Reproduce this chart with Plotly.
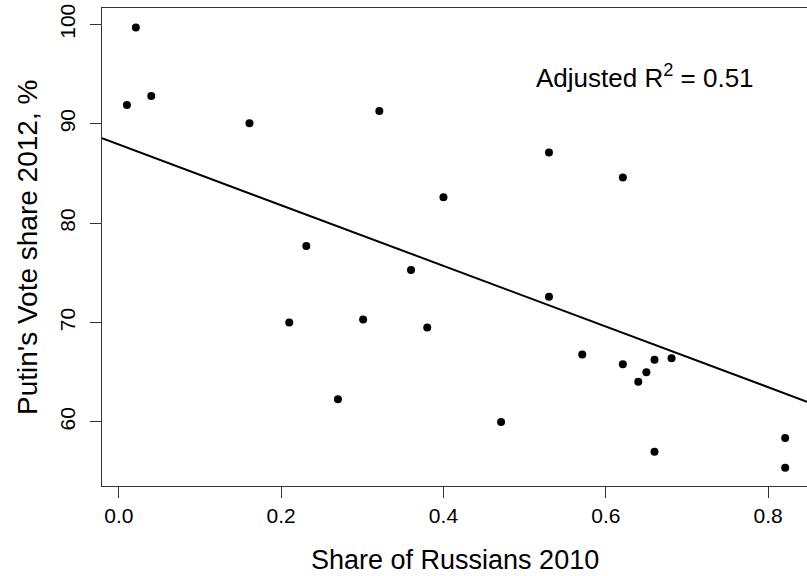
import plotly.graph_objects as go
import numpy as np

# Data
share_russians = [0.010, 0.021, 0.040, 0.161, 0.210, 0.231, 0.270, 0.301, 0.321, 0.360,
                  0.380, 0.400, 0.471, 0.530, 0.530, 0.571, 0.621, 0.621, 0.640, 0.650,
                  0.660, 0.660, 0.681, 0.821, 0.821]
putin_vote = [91.9, 99.7, 92.8, 90.05, 70.0, 77.7, 62.3, 70.3, 91.3, 75.3,
              69.5, 82.6, 60.0, 87.1, 72.6, 66.8, 84.6, 65.8, 64.05, 65.0,
              66.25, 57.0, 66.4, 58.4, 55.4]

# Fitted regression line coefficients
fit_intercept = 87.91
fit_slope = -30.51
adj_r2 = 0.51

x_ticks = [0.0, 0.2, 0.4, 0.6, 0.8]
x_tick_text = ["0.0", "0.2", "0.4", "0.6", "0.8"]
y_ticks = [60, 70, 80, 90, 100]
y_tick_text = ["60", "70", "80", "90", "100"]

x_range = [-0.0207, 0.8479]
y_range = [53.56, 101.65]

FONT = "Liberation Sans, Arial, sans-serif"

fig = go.Figure()

line_x = np.array(x_range)
line_y = fit_intercept + fit_slope * line_x
fig.add_trace(go.Scatter(x=line_x, y=line_y, mode="lines",
                         line=dict(color="black", width=2), hoverinfo="skip",
                         showlegend=False))

fig.add_trace(go.Scatter(x=share_russians, y=putin_vote, mode="markers",
                         marker=dict(color="black", size=8, line=dict(width=0)),
                         showlegend=False))

fig.update_layout(
    width=807, height=576,
    margin=dict(l=102, r=0, t=8, b=90),
    paper_bgcolor="white", plot_bgcolor="white",
    font=dict(family=FONT, color="black", size=21),
    xaxis=dict(range=x_range, tickvals=x_ticks, ticktext=x_tick_text,
               showgrid=False, zeroline=False, showline=True, mirror=True,
               linecolor="#333333", linewidth=1,
               ticks="outside", ticklen=11, tickwidth=1, tickcolor="#333333",
               tickfont=dict(size=21, family=FONT, color="black")),
    yaxis=dict(range=y_range, tickvals=y_ticks, ticktext=y_tick_text,
               showgrid=False, zeroline=False, showline=True, mirror=False,
               linecolor="#333333", linewidth=1,
               ticks="outside", ticklen=11, tickwidth=1, tickcolor="#333333",
               tickangle=-90, ticklabelstandoff=7,
               tickfont=dict(size=21, family=FONT, color="black")),
    annotations=[
        dict(text="Share of Russians 2010", xref="paper", yref="paper",
             x=0.5, y=-0.154, xanchor="center", yanchor="middle", showarrow=False,
             font=dict(size=27, family=FONT, color="black")),
        dict(text="Putin's Vote share 2012, %", xref="paper", yref="paper",
             x=-0.1064, y=0.5, xanchor="center", yanchor="middle", showarrow=False,
             textangle=-90, font=dict(size=28, family=FONT, color="black")),
        dict(text="Adjusted R<sup>2</sup> = %.2f" % adj_r2, xref="x", yref="y",
             x=0.648, y=94.8, xanchor="center", yanchor="middle", showarrow=False,
             font=dict(size=26, family=FONT, color="black")),
    ],
)

fig.write_html("out.html")
